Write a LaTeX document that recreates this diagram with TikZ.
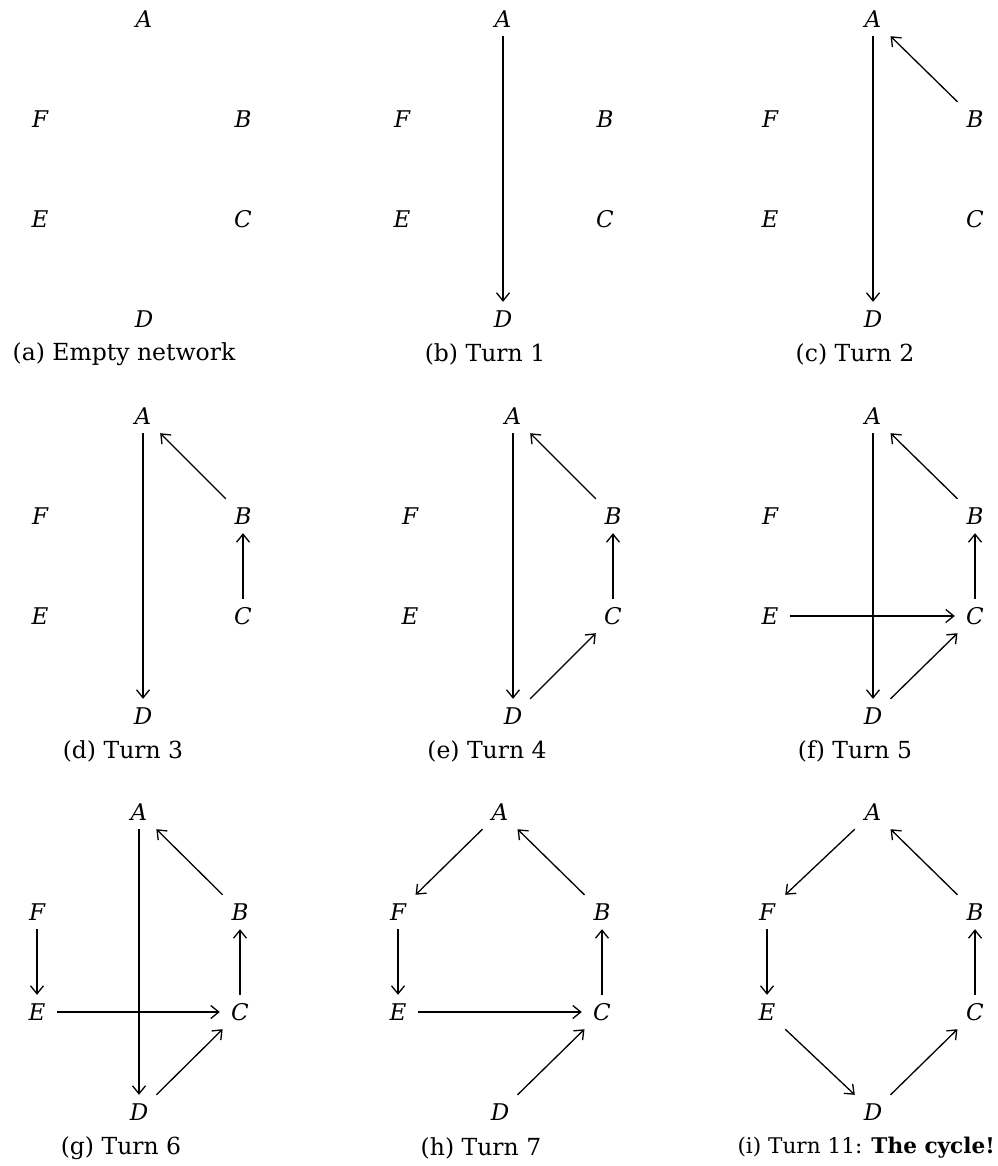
\documentclass[tikz,border=0pt]{standalone}
\usepackage{fontspec}
\setmainfont{DejaVu Serif}
\usetikzlibrary{arrows.meta}
\newcommand\mkpanel[5]{%
  \node[vtx] (#1A) at (#2,#5+19) {A};
  \node[vtx] (#1F) at (#3,#5+119) {F};
  \node[vtx] (#1B) at (#4,#5+119) {B};
  \node[vtx] (#1E) at (#3,#5+219) {E};
  \node[vtx] (#1C) at (#4,#5+219) {C};
  \node[vtx] (#1D) at (#2,#5+319) {D};
}
\begin{document}
\begin{tikzpicture}[x=1pt,y=-1pt,
  vtx/.style={minimum width=40pt,minimum height=34pt,inner sep=0pt,font=\fontsize{23}{27}\selectfont\itshape},
  captext/.style={inner sep=0pt,anchor=center,font=\fontsize{23.5}{28}\selectfont},
  edg/.style={line width=1.3pt,-{Straight Barb[length=8pt,width=13pt]}}]
\useasboundingbox (0,0) rectangle (997,1166);
% row 1
\mkpanel{a}{144}{40}{243}{0}
\mkpanel{b}{503}{402}{605}{0}
\mkpanel{c}{873}{770}{975}{0}
% row 2
\mkpanel{d}{143}{40}{243}{397}
\mkpanel{e}{513}{410}{613}{397}
\mkpanel{f}{873}{770}{975}{397}
% row 3
\mkpanel{g}{139}{37}{240}{793}
\mkpanel{h}{500}{398}{602}{793}
\mkpanel{i}{873}{767}{975}{793}
% captions
\node[captext] (capa) at (124,354) {(a) Empty network};
\node[captext] (capb) at (485,354) {(b) Turn 1};
\node[captext] (capc) at (855,354) {(c) Turn 2};
\node[captext] (capd) at (123,751) {(d) Turn 3};
\node[captext] (cape) at (487,751) {(e) Turn 4};
\node[captext] (capf) at (855,751) {(f) Turn 5};
\node[captext] (capg) at (121,1148) {(g) Turn 6};
\node[captext] (caph) at (481,1148) {(h) Turn 7};
\node[captext,font=\fontsize{21.6}{26}\selectfont,anchor=east] (capi) at (995,1148) {(i) Turn 11: \textbf{The cycle!}};
% edges
\draw[edg] (bA) -- (bD);
\draw[edg] (cA) -- (cD);
\draw[edg] (cB) -- (cA);
\draw[edg] (dA) -- (dD);
\draw[edg] (dB) -- (dA);
\draw[edg] (dC) -- (dB);
\draw[edg] (eA) -- (eD);
\draw[edg] (eB) -- (eA);
\draw[edg] (eC) -- (eB);
\draw[edg] (eD) -- (eC);
\draw[edg] (fA) -- (fD);
\draw[edg] (fB) -- (fA);
\draw[edg] (fC) -- (fB);
\draw[edg] (fD) -- (fC);
\draw[edg] (fE) -- (fC);
\draw[edg] (gA) -- (gD);
\draw[edg] (gB) -- (gA);
\draw[edg] (gC) -- (gB);
\draw[edg] (gD) -- (gC);
\draw[edg] (gE) -- (gC);
\draw[edg] (gF) -- (gE);
\draw[edg] (hA) -- (hF);
\draw[edg] (hB) -- (hA);
\draw[edg] (hC) -- (hB);
\draw[edg] (hD) -- (hC);
\draw[edg] (hE) -- (hC);
\draw[edg] (hF) -- (hE);
\draw[edg] (iA) -- (iF);
\draw[edg] (iB) -- (iA);
\draw[edg] (iC) -- (iB);
\draw[edg] (iD) -- (iC);
\draw[edg] (iE) -- (iD);
\draw[edg] (iF) -- (iE);
\end{tikzpicture}
\end{document}
